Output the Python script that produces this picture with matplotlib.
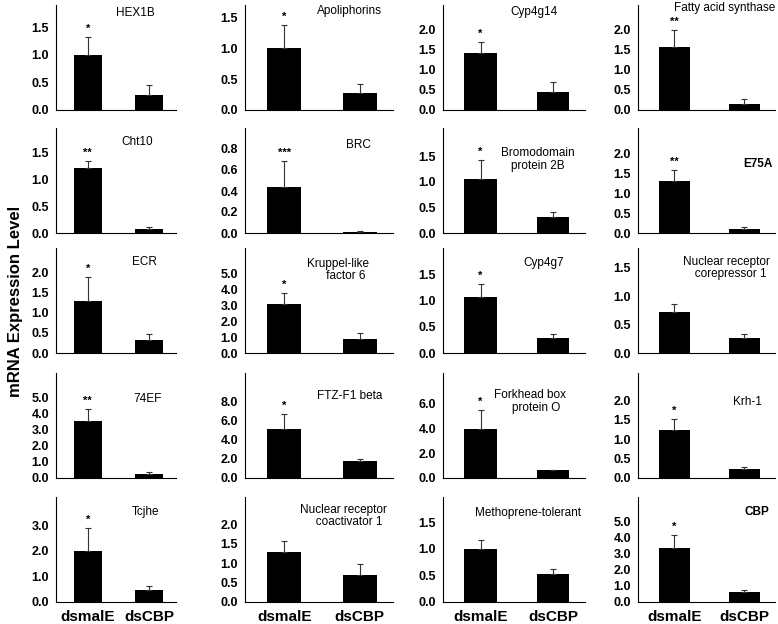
import matplotlib.pyplot as plt
import matplotlib.transforms as mtransforms
import numpy as np

plt.rcParams['font.family'] = ['Liberation Sans', 'DejaVu Sans']

groups = ['dsmalE', 'dsCBP']

genes = ['HEX1B', 'Apoliphorins', 'Cyp4g14', 'Fatty acid synthase',
         'Cht10', 'BRC', 'Bromodomain\nprotein 2B', 'E75A',
         'ECR', 'Kruppel-like\n     factor 6', 'Cyp4g7', 'Nuclear receptor\n   corepressor 1',
         '74EF', 'FTZ-F1 beta', 'Forkhead box\n    protein O', 'Krh-1',
         'Tcjhe', 'Nuclear receptor\n   coactivator 1', 'Methoprene-tolerant', 'CBP']

malE = [1.0, 1.0, 1.42, 1.55,
        1.2, 0.44, 1.05, 1.31,
        1.3, 3.05, 1.07, 0.72,
        3.5, 5.1, 3.95, 1.24,
        2.0, 1.29, 1.0, 3.35]
malE_err = [0.33, 0.37, 0.27, 0.42,
            0.13, 0.25, 0.38, 0.27,
            0.57, 0.72, 0.25, 0.15,
            0.77, 1.6, 1.55, 0.28,
            0.88, 0.27, 0.17, 0.8]
cbp = [0.28, 0.27, 0.45, 0.15,
       0.08, 0.01, 0.31, 0.09,
       0.31, 0.88, 0.29, 0.27,
       0.22, 1.8, 0.62, 0.22,
       0.45, 0.7, 0.52, 0.65]
cbp_err = [0.18, 0.15, 0.24, 0.12,
           0.04, 0.01, 0.1, 0.07,
           0.17, 0.38, 0.07, 0.06,
           0.15, 0.15, 0.06, 0.07,
           0.17, 0.28, 0.09, 0.07]
stars = ['*', '*', '*', '**',
         '**', '***', '*', '**',
         '*', '*', '*', '',
         '**', '*', '*', '*',
         '*', '', '', '*']
tick_top = [1.5, 1.5, 2.0, 2.0,
            1.5, 0.8, 1.5, 2.0,
            2.0, 5.0, 1.5, 1.5,
            5.0, 8.0, 6.0, 2.0,
            3.0, 2.0, 1.5, 5.0]
tick_step = [0.5, 0.5, 0.5, 0.5,
             0.5, 0.2, 0.5, 0.5,
             0.5, 1.0, 0.5, 0.5,
             1.0, 2.0, 2.0, 0.5,
             1.0, 0.5, 0.5, 1.0]
y_top = [1.9, 1.7, 2.6, 2.6,
         1.95, 1.0, 2.05, 2.65,
         2.6, 6.6, 2.0, 1.85,
         6.5, 11.0, 8.5, 2.7,
         4.1, 2.7, 1.97, 6.5]

# gene name placement: x in bar units, y as axes fraction
title_pos = [(0.78, 0.92), (0.86, 0.94), (0.73, 0.93), (0.72, 0.975),
             (0.81, 0.87), (0.98, 0.84), (0.79, 0.70), (1.19, 0.66),
             (0.92, 0.87), (0.71, 0.79), (0.87, 0.86), (0.74, 0.81),
             (0.97, 0.75), (0.87, 0.78), (0.68, 0.73), (1.05, 0.72),
             (0.95, 0.86), (0.79, 0.82), (0.66, 0.85), (1.18, 0.86)]
bold_title = ['E75A', 'CBP']

W, H = 778, 624
fig = plt.figure(figsize=(W / 100, H / 100), dpi=100)

col_left = [56, 245, 443, 638]
col_width = [120, 148, 142, 137]
row_top = [5, 128, 248, 373, 497]
row_h = 105

x = np.arange(len(groups))
for i, name in enumerate(genes):
    r, c = divmod(i, 4)
    ax = fig.add_axes([col_left[c] / W, 1 - (row_top[r] + row_h) / H,
                       col_width[c] / W, row_h / H])
    vals = [malE[i], cbp[i]]
    errs = [[0, 0], [malE_err[i], cbp_err[i]]]
    ax.bar(x, vals, width=0.45, color='black', yerr=errs,
           error_kw=dict(ecolor='#333333', elinewidth=0.8, capsize=2, capthick=0.8))
    ax.set_xlim(-0.52, 1.44)
    ax.set_ylim(0, y_top[i])
    ticks = np.arange(0, tick_top[i] + tick_step[i] / 2, tick_step[i])
    ax.set_yticks(ticks)
    ax.set_yticklabels(['%.1f' % t for t in ticks], fontsize=9, fontweight='bold')
    ax.tick_params(axis='y', length=0, pad=5)
    ax.tick_params(axis='x', length=0, pad=6)
    if r == 4:
        ax.set_xticks(x)
        ax.set_xticklabels(groups, fontsize=11, fontweight='bold')
    else:
        ax.set_xticks([])
    ax.spines['top'].set_visible(False)
    ax.spines['right'].set_visible(False)
    ax.spines['left'].set_linewidth(0.8)
    ax.spines['bottom'].set_linewidth(0.8)
    tx, ty = title_pos[i]
    trans = mtransforms.blended_transform_factory(ax.transData, ax.transAxes)
    ax.text(tx, ty, name, transform=trans, ha='center', va='center',
            fontsize=8.5, fontweight='bold' if name in bold_title else 'normal',
            linespacing=1.05)
    if stars[i]:
        ax.text(0, malE[i] + malE_err[i] + y_top[i] * 0.03, stars[i],
                ha='center', va='bottom', fontsize=8, fontweight='bold')

fig.text(16 / W, 1 - 301 / H, 'mRNA Expression Level', rotation=90,
         ha='center', va='center', fontsize=12, fontweight='bold')

fig.savefig('out.png', dpi=100)
